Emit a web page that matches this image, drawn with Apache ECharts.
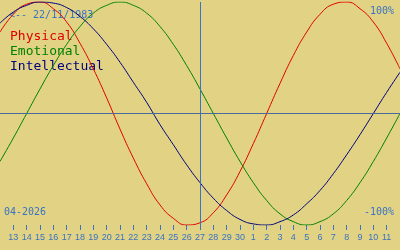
<!DOCTYPE html>
<html><head><meta charset="utf-8">
<script src="https://cdn.jsdelivr.net/npm/echarts@6/dist/echarts.min.js"></script>
<style>html,body{margin:0;padding:0;background:#e1d383;}#c{width:400px;height:250px;}</style>
</head><body><div id="c"></div>
<script>
const dayLabels = ['12','13','14','15','16','17','18','19','20','21','22','23','24','25','26','27','28','29','30','1','2','3','4','5','6','7','8','9','10','11','12'];
const physical = [0.73,0.89,0.98,1.00,0.94,0.82,0.63,0.40,0.14,-0.14,-0.40,-0.63,-0.82,-0.94,-1.00,-0.98,-0.89,-0.73,-0.52,-0.27,0,0.27,0.52,0.73,0.89,0.98,1.00,0.94,0.82,0.63,0.40];
const emotional = [-0.43,-0.22,0,0.22,0.43,0.62,0.78,0.90,0.97,1.00,0.97,0.90,0.78,0.62,0.43,0.22,0,-0.22,-0.43,-0.62,-0.78,-0.90,-0.97,-1.00,-0.97,-0.90,-0.78,-0.62,-0.43,-0.22,0];
const intellectual = [0.81,0.91,0.97,1.00,0.99,0.95,0.87,0.76,0.62,0.46,0.28,0.10,-0.10,-0.28,-0.46,-0.62,-0.76,-0.87,-0.95,-0.99,-1.00,-0.97,-0.91,-0.81,-0.69,-0.54,-0.37,-0.19,0,0.19,0.37];
const todayIndex = 15;
const birthText = '<-- 22/11/1983';
const monthText = '04-2026';
const names = ['Physical','Emotional','Intellectual'];
const colors = ['#e00000','#008000','#000080'];
const blue = '#3a72c4';
const mono = '"DejaVu Sans Mono", monospace';
const inner = (i) => i > 0 && i < dayLabels.length - 1;

const chart = echarts.init(document.getElementById('c'), null, {renderer:'canvas'});
chart.setOption({
  backgroundColor: '#e1d383',
  animation: false,
  grid: {left: 0, right: 0, top: 2, bottom: 25, containLabel: false, outerBoundsMode: 'none'},
  xAxis: {
    type: 'category', data: dayLabels, boundaryGap: false,
    axisLine: {show: false, onZero: false},
    axisTick: {show: true, length: 5, interval: inner, lineStyle: {color: blue, width: 1}},
    axisLabel: {show: true, interval: inner, hideOverlap: false, color: blue, fontSize: 9, fontFamily: '"Liberation Sans", Arial, sans-serif', margin: 8},
    splitLine: {show: false}
  },
  yAxis: {type: 'value', min: -1, max: 1, show: false, splitLine: {show: false}},
  series: [
    {name: names[0], type: 'line', data: physical, smooth: true, symbol: 'none', lineStyle: {color: colors[0], width: 1},
     markLine: {silent: true, symbol: 'none', label: {show: false},
       data: [{xAxis: todayIndex, lineStyle: {color: blue, width: 1, type: 'solid'}},
              {yAxis: 0, lineStyle: {color: '#4a6a9c', width: 1, type: 'solid'}}]}},
    {name: names[1], type: 'line', data: emotional, smooth: true, symbol: 'none', lineStyle: {color: colors[1], width: 1}},
    {name: names[2], type: 'line', data: intellectual, smooth: true, symbol: 'none', lineStyle: {color: colors[2], width: 1}}
  ],
  graphic: [
    {type: 'text', left: 9, top: 10, style: {text: birthText, fill: blue, font: '10px ' + mono}},
    {type: 'text', left: 10, top: 30, style: {text: names[0], fill: colors[0], font: '13px ' + mono}},
    {type: 'text', left: 10, top: 45, style: {text: names[1], fill: colors[1], font: '13px ' + mono}},
    {type: 'text', left: 10, top: 60, style: {text: names[2], fill: colors[2], font: '13px ' + mono}},
    {type: 'text', right: 6, top: 6, style: {text: '100%', fill: blue, font: '10px ' + mono}},
    {type: 'text', right: 6, top: 207, style: {text: '-100%', fill: blue, font: '10px ' + mono}},
    {type: 'text', left: 4, top: 207, style: {text: monthText, fill: blue, font: '10px ' + mono}}
  ]
});
</script></body></html>
